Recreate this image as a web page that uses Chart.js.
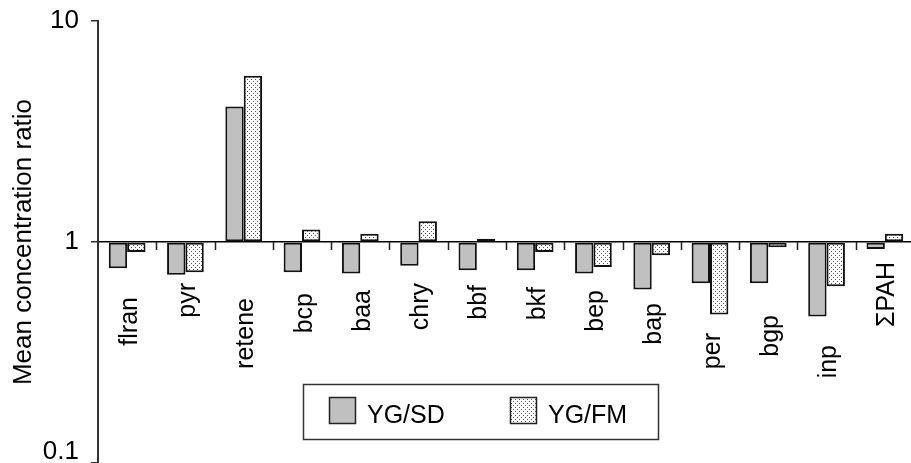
<!DOCTYPE html>
<html>
<head>
<meta charset="utf-8">
<script src="https://cdn.jsdelivr.net/npm/chart.js@4/dist/chart.umd.min.js"></script>
<style>
  html, body { margin: 0; padding: 0; background: #fff; overflow: hidden; }
  canvas { display: block; }
</style>
</head>
<body>
<canvas id="c" width="916" height="476"></canvas>
<script>
// PAH compounds and their mean concentration ratios
const categories = ['flran', 'pyr', 'retene', 'bcp', 'baa', 'chry', 'bbf', 'bkf', 'bep', 'bap', 'per', 'bgp', 'inp', 'ΣPAH'];
const seriesNames = ['YG/SD', 'YG/FM'];
const ygSD = [0.76, 0.71, 4.1, 0.73, 0.72, 0.78, 0.745, 0.745, 0.72, 0.61, 0.65, 0.65, 0.46, 0.93];
const ygFM = [0.90, 0.73, 5.65, 1.14, 1.09, 1.24, 1.035, 0.90, 0.77, 0.87, 0.47, 0.946, 0.63, 1.09];
const yTicks = [0.1, 1, 10];

// layout: how far below the ratio = 1 line each compound name begins (px)
const labelDrop = [55, 41, 56, 51, 48, 41, 43, 45, 48, 61, 91, 73, 103, 20];

const FONT = '"Liberation Sans", Arial, Helvetica, sans-serif';
const PAGE_HEIGHT = 463;
const canvas = document.getElementById('c');
const ctx2d = canvas.getContext('2d');

// sparse dot fill for the second series
function makeDots() {
  const t = document.createElement('canvas');
  t.width = 4; t.height = 4;
  const g = t.getContext('2d');
  g.fillStyle = '#ffffff';
  g.fillRect(0, 0, 4, 4);
  g.fillStyle = '#555555';
  g.fillRect(1, 1, 1, 1);
  g.fillRect(3, 3, 1, 1);
  return ctx2d.createPattern(t, 'repeat');
}
const dots = makeDots();

// value labels of the log axis, kept inside the visible page
const ratioLabels = {
  id: 'ratioLabels',
  afterDraw(chart) {
    const { ctx, chartArea, scales: { y } } = chart;
    const size = 26;
    ctx.save();
    ctx.font = size + 'px ' + FONT;
    ctx.fillStyle = '#000';
    ctx.textAlign = 'right';
    ctx.textBaseline = 'middle';
    y.ticks.forEach(t => {
      const py = Math.min(y.getPixelForValue(t.value), PAGE_HEIGHT - 11);
      ctx.fillText(String(t.value), chartArea.left - 7 - 12, py);
    });
    ctx.restore();
  }
};

// baseline ticks between categories plus the rotated compound names
const categoryAxis = {
  id: 'categoryAxis',
  afterDatasetsDraw(chart) {
    const { ctx, scales: { x, y } } = chart;
    const y1 = y.getPixelForValue(1);
    const step = x.getPixelForValue(1) - x.getPixelForValue(0);
    ctx.save();
    ctx.strokeStyle = '#222';
    ctx.lineWidth = 1.5;
    ctx.beginPath();
    for (let i = 1; i < categories.length; i++) {
      const px = Math.round(x.getPixelForValue(i) - step / 2) + 0.5;
      ctx.moveTo(px, y1);
      ctx.lineTo(px, y1 + 8);
    }
    ctx.stroke();

    const size = 25;
    ctx.font = size + 'px ' + FONT;
    ctx.fillStyle = '#000';
    ctx.textAlign = 'right';
    ctx.textBaseline = 'alphabetic';
    categories.forEach((name, i) => {
      ctx.save();
      ctx.translate(x.getPixelForValue(i) + 0.38 * size, y1 + labelDrop[i]);
      ctx.rotate(-Math.PI / 2);
      ctx.fillText(name, 0, 0);
      ctx.restore();
    });
    ctx.restore();
  }
};

// boxed legend sitting inside the plot area
const boxedLegend = {
  id: 'boxedLegend',
  afterDraw(chart) {
    const { ctx, chartArea } = chart;
    const bx = chartArea.left + 205, by = chartArea.top + 363, bw = 355, bh = 55;
    ctx.save();
    ctx.fillStyle = '#fff';
    ctx.fillRect(bx, by, bw, bh);
    ctx.strokeStyle = '#333';
    ctx.lineWidth = 1.5;
    ctx.strokeRect(bx + 0.5, by + 0.5, bw, bh);
    ctx.font = '25px ' + FONT;
    ctx.textAlign = 'left';
    ctx.textBaseline = 'alphabetic';
    chart.data.datasets.forEach((ds, k) => {
      const sx = bx + 26 + k * 181, sy = by + 13, s = 27;
      ctx.fillStyle = ds.backgroundColor;
      ctx.fillRect(sx, sy, s, s);
      ctx.strokeStyle = '#222';
      ctx.lineWidth = 1.5;
      ctx.strokeRect(sx + 0.5, sy + 0.5, s - 1, s - 1);
      ctx.fillStyle = '#000';
      ctx.fillText(ds.label, sx + s + 11, sy + s - 1);
    });
    ctx.restore();
  }
};

new Chart(canvas, {
  type: 'bar',
  data: {
    labels: categories,
    datasets: [
      {
        label: seriesNames[0],
        data: ygSD,
        base: 1,
        backgroundColor: '#c0c0c0',
        borderColor: '#111',
        borderWidth: 2,
        borderSkipped: false
      },
      {
        label: seriesNames[1],
        data: ygFM,
        base: 1,
        backgroundColor: dots,
        borderColor: '#111',
        borderWidth: 2,
        borderSkipped: false
      }
    ]
  },
  options: {
    responsive: false,
    animation: false,
    devicePixelRatio: 1,
    layout: { padding: { top: 21, right: 2, bottom: 13, left: 0 } },
    datasets: { bar: { categoryPercentage: 0.63, barPercentage: 1 } },
    plugins: { legend: { display: false }, tooltip: { enabled: false } },
    scales: {
      x: { display: false, offset: true },
      y: {
        type: 'logarithmic',
        min: 0.1,
        max: 10,
        afterBuildTicks: s => { s.ticks = yTicks.map(v => ({ value: v })); },
        afterFit: s => { s.width = 98; s.paddingTop = 0; s.paddingBottom = 0; },
        ticks: { display: false },
        grid: {
          color: c => (c.tick && c.tick.value === 1) ? '#000' : 'rgba(0,0,0,0)',
          lineWidth: 1.5,
          tickColor: '#333',
          tickWidth: 1.5,
          tickLength: 7
        },
        border: { color: '#333', width: 2 },
        title: {
          display: true,
          text: 'Mean concentration ratio',
          color: '#000',
          font: { family: FONT, size: 26 },
          padding: { top: 8, bottom: 0 }
        }
      }
    }
  },
  plugins: [categoryAxis, ratioLabels, boxedLegend]
});
</script>
</body>
</html>
